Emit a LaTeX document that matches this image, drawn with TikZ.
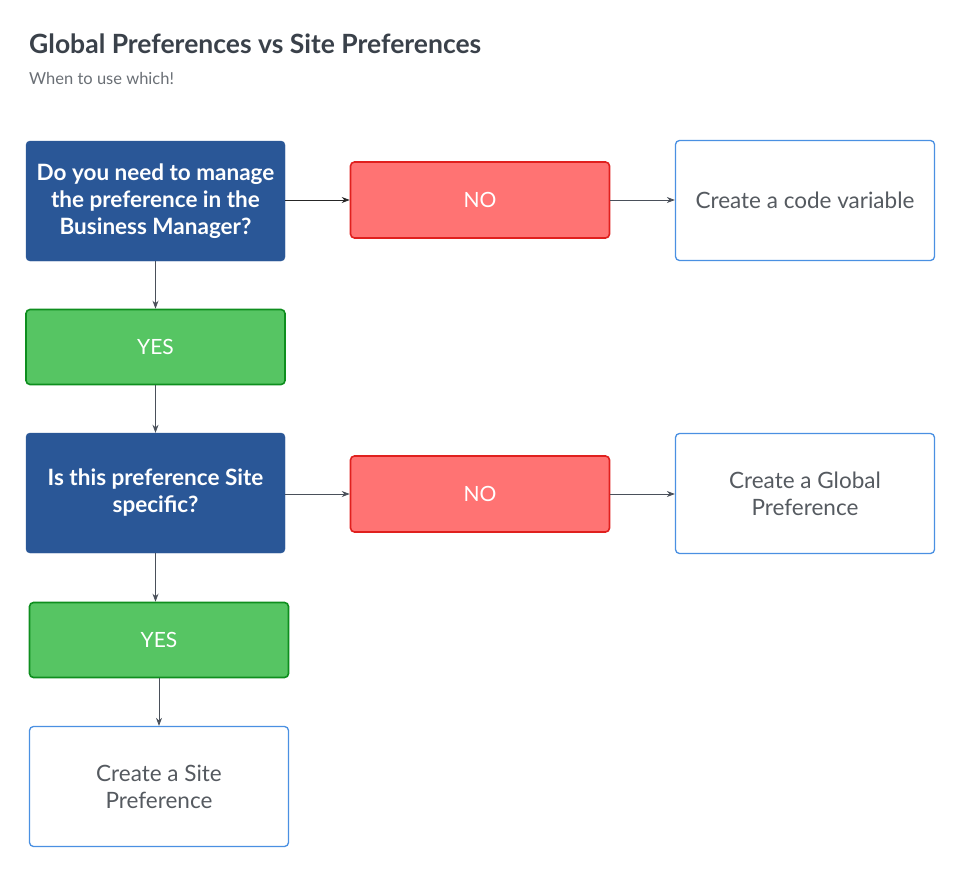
\documentclass[tikz,border=0pt]{standalone}
\usepackage{fontspec}
\setmainfont{Lato}
\usetikzlibrary{arrows.meta}
\definecolor{qblue}{HTML}{2A5797}
\definecolor{nofill}{HTML}{FF7373}
\definecolor{noline}{HTML}{E0201E}
\definecolor{yesfill}{HTML}{56C563}
\definecolor{yesline}{HTML}{0E8E1E}
\definecolor{outline}{HTML}{4A90E2}
\definecolor{titlecol}{HTML}{3A414A}
\definecolor{subcol}{HTML}{6A6F75}
\definecolor{textgray}{HTML}{555A60}
\definecolor{arrowcol}{HTML}{4A505A}
\tikzset{
  base/.style={rounded corners=4pt, minimum width=259pt, align=center, inner sep=0pt},
  question/.style={base, fill=qblue, draw=qblue, minimum height=120pt, text=white, font=\fontsize{22.5}{27}\selectfont\bfseries},
  nobox/.style={base, fill=nofill, draw=noline, line width=1.6pt, minimum height=76pt, text=white, font=\fontsize{21}{26}\selectfont},
  yesbox/.style={base, fill=yesfill, draw=yesline, line width=1.6pt, minimum height=75pt, text=white, font=\fontsize{21}{26}\selectfont},
  result/.style={base, fill=white, draw=outline, line width=1.3pt, minimum height=120pt, text=textgray, font=\fontsize{22.5}{27}\selectfont},
  conn/.style={draw=arrowcol, line width=0.8pt, -{Stealth[length=8pt,width=6pt]}}
}
\begin{document}
\begin{tikzpicture}[x=1pt,y=-1pt]
\useasboundingbox (0,0) rectangle (960,872);
\node[anchor=base west, text=titlecol, font=\fontsize{26.5}{30}\selectfont\bfseries, inner sep=0pt] (title) at (29,54) {Global Preferences vs Site Preferences};
\node[anchor=base west, text=subcol, font=\fontsize{16.5}{20}\selectfont, inner sep=0pt] (sub) at (29,85) {When to use which!};

\node[question] (q1) at (155.5,201) {Do you need to manage\\the preference in the\\Business Manager?};
\node[nobox] (no1) at (480,200) {NO};
\node[result] (code) at (805,200.5) {Create a code variable};
\node[yesbox] (yes1) at (155.5,347) {YES};
\node[question] (q2) at (155.5,493) {Is this preference Site\\specific?};
\node[nobox] (no2) at (480,494) {NO};
\node[result] (glob) at (805,493.5) {Create a Global\\Preference};
\node[yesbox] (yes2) at (159,640) {YES};
\node[result] (site) at (159,786.5) {Create a Site\\Preference};

\draw[conn, draw=black!85] (q1.east |- no1) -- (no1.west);
\draw[conn] (no1.east) -- (code.west |- no1);
\draw[conn] (q1.south -| yes1) -- (yes1.north);
\draw[conn] (yes1.south) -- (q2.north -| yes1);
\draw[conn] (q2.east |- no2) -- (no2.west);
\draw[conn] (no2.east) -- (glob.west |- no2);
\draw[conn] (q2.south) -- (q2.south |- yes2.north);
\draw[conn] (yes2.south) -- (site.north);
\end{tikzpicture}
\end{document}
